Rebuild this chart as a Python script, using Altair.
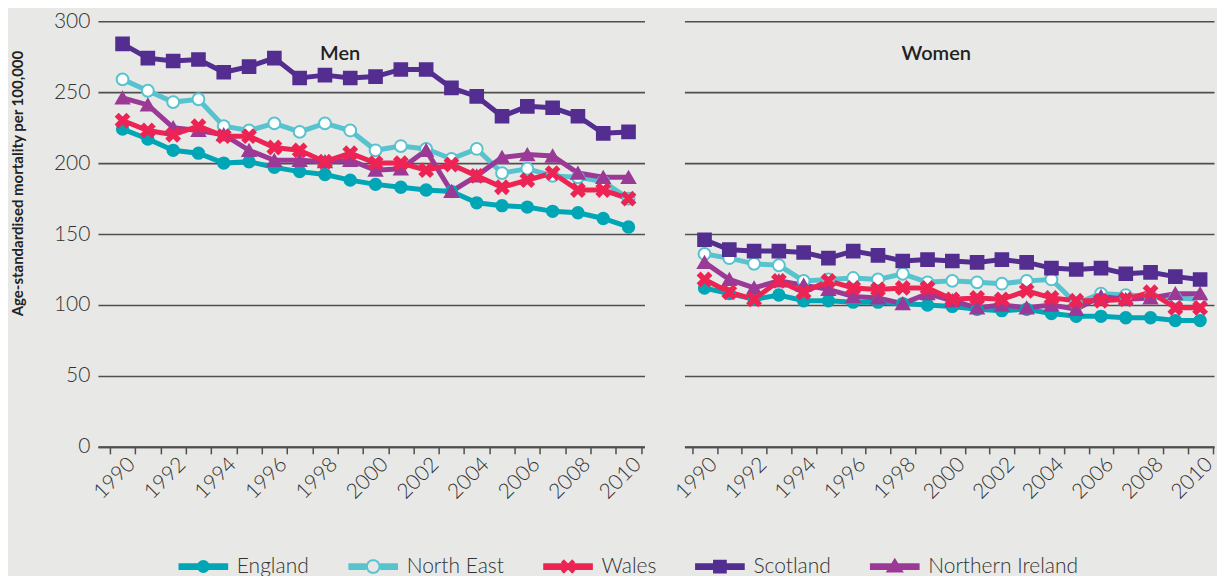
import math
import altair as alt
import pandas as pd

# ---------------- data ----------------
years = list(range(1990, 2011))
series = ["England", "North East", "Wales", "Scotland", "Northern Ireland"]

men_england = [224, 217, 209, 207, 200, 201, 197, 194, 192, 188, 185, 183, 181, 180, 172, 170, 169, 166, 165, 161, 155]
men_north_east = [259, 251, 243, 245, 226, 223, 228, 222, 228, 223, 209, 212, 210, 203, 210, 193, 196, 191, 190, 187, 175]
men_wales = [230, 223, 220, 226, 219, 219, 211, 209, 201, 207, 200, 200, 195, 199, 191, 183, 188, 193, 181, 181, 175]
men_scotland = [284, 274, 272, 273, 264, 268, 274, 260, 262, 260, 261, 266, 266, 253, 247, 233, 240, 239, 233, 221, 222]
men_northern_ireland = [246, 241, 225, 223, 220, 209, 202, 202, 201, 202, 195, 196, 209, 180, 191, 204, 206, 205, 193, 190, 190]

women_england = [112, 108, 104, 107, 103, 103, 102, 102, 101, 100, 99, 97, 96, 97, 94, 92, 92, 91, 91, 89, 89]
women_north_east = [136, 133, 129, 128, 117, 118, 119, 118, 122, 116, 117, 116, 115, 117, 118, 101, 108, 107, 106, 105, 104]
women_wales = [118, 109, 104, 117, 109, 117, 112, 111, 112, 112, 104, 105, 104, 110, 105, 103, 103, 104, 109, 98, 98]
women_scotland = [146, 139, 138, 138, 137, 133, 138, 135, 131, 132, 131, 130, 132, 130, 126, 125, 126, 122, 123, 120, 118]
women_northern_ireland = [130, 118, 112, 117, 114, 111, 106, 105, 101, 108, 103, 98, 100, 98, 100, 97, 106, 104, 105, 108, 108]

men = {"England": men_england, "North East": men_north_east, "Wales": men_wales,
       "Scotland": men_scotland, "Northern Ireland": men_northern_ireland}
women = {"England": women_england, "North East": women_north_east, "Wales": women_wales,
         "Scotland": women_scotland, "Northern Ireland": women_northern_ireland}

y_ticks = [0, 50, 100, 150, 200, 250, 300]

# ---------------- styles ----------------
colors = ["#00a6b6", "#56c3cf", "#ec2454", "#532d8f", "#9b3a96"]
fills = ["#00a6b6", "#ffffff", "#ec2454", "#532d8f", "#9b3a96"]
sizes = [130, 170, 160, 135, 210]
BG = "#e8e9e6"
GRID = "#4f4f4f"
TEXT = "#333333"
FONT = "Lato"
draw_order = ["England", "North East", "Northern Ireland", "Wales", "Scotland"]


# ---------------- marker / legend symbol paths ----------------
def area(pts):
    n = len(pts)
    return sum(pts[i][0] * pts[(i + 1) % n][1] - pts[(i + 1) % n][0] * pts[i][1] for i in range(n)) / 2


def sub(pts, positive=True):
    if (area(pts) > 0) != positive:
        pts = pts[::-1]
    return "M" + "L".join(f"{x:.3f},{y:.3f}" for x, y in pts) + "Z"


def circle(r, n=32):
    return [(r * math.cos(2 * math.pi * k / n), r * math.sin(2 * math.pi * k / n)) for k in range(n)]


def rect(x0, x1, h):
    return [(x0, -h), (x1, -h), (x1, h), (x0, h)]


def xshape(a, L):
    plus = [(a, -L), (a, -a), (L, -a), (L, a), (a, a), (a, L), (-a, L), (-a, a), (-L, a), (-L, -a), (-a, -a), (-a, -L)]
    c = math.sqrt(0.5)
    return [((x - y) * c, (x + y) * c) for x, y in plus]


X_MARK = sub(xshape(0.3, 1.2))
point_shapes = ["circle", "circle", X_MARK, "square", "triangle-up"]

BAR_H = 0.48
BAR_L = 3.55
legend_paths = [
    sub(rect(-BAR_L, BAR_L, BAR_H)) + sub(circle(0.92)),
    sub(rect(-BAR_L, -1.0, BAR_H)) + sub(rect(1.0, BAR_L, BAR_H)) + sub(circle(1.05)) + sub(circle(0.76), False),
    sub(rect(-BAR_L, BAR_L, BAR_H)) + sub(xshape(0.3, 1.15)),
    sub(rect(-BAR_L, BAR_L, BAR_H)) + sub(rect(-0.98, 0.98, 0.98)),
    sub(rect(-BAR_L, BAR_L, BAR_H)) + sub([(0, -1.25), (1.3, 0.85), (-1.3, 0.85)]),
]

# legend symbol colour, looked up per entry
fill_expr = "'" + colors[-1] + "'"
for name, col in reversed(list(zip(series[:-1], colors[:-1]))):
    fill_expr = f"datum.value === '{name}' ? '{col}' : ({fill_expr})"

# ---------------- table ----------------
rows = []
for sex, table in [("Men", men), ("Women", women)]:
    for s in draw_order:
        for yr, v in zip(years, table[s]):
            rows.append({"sex": sex, "series": s, "year": yr, "value": v})
df = pd.DataFrame(rows)

stroke_scale = alt.Scale(domain=series, range=colors)


def panel(sex, width, pad_outer, align, left, title_dx, title_offset):
    data = df[df["sex"] == sex]
    x = alt.X(
        "year:O", title=None,
        scale=alt.Scale(type="band", paddingInner=0, paddingOuter=pad_outer, align=align),
        axis=alt.Axis(tickBand="extent", labelExpr="datum.value % 2 == 0 ? datum.label : ''",
                      labelAngle=315, labelAlign="right", labelBaseline="middle", labelOverlap=False,
                      labelPadding=7, labelOffset=9, grid=False, domainColor=GRID, domainWidth=2,
                      tickColor=GRID, tickWidth=1.5, tickSize=7, labelFontSize=21, labelColor=TEXT,
                      labelFont=FONT, labelFontWeight=300),
    )
    if left:
        yaxis = alt.Axis(values=y_ticks, grid=True, gridColor=GRID, gridWidth=1.6, domain=False, ticks=False,
                         labelPadding=8, labelFontSize=21, labelColor=TEXT, labelFont=FONT, labelFontWeight=300,
                         title="Age-standardised mortality per 100,000", titleX=-80, titleY=162,
                         titleAngle=270, titleAlign="center", titleBaseline="middle", titleFontSize=15,
                         titleFont=FONT, titleFontWeight="bold", titleColor="#222222")
    else:
        yaxis = alt.Axis(values=y_ticks, grid=True, gridColor=GRID, gridWidth=1.6, domain=False, ticks=False,
                         labels=False, title=None)
    y = alt.Y("value:Q", scale=alt.Scale(domain=[0, 300], nice=False), axis=yaxis)

    base = alt.Chart(data).encode(x=x, y=y)
    lines = base.mark_line(strokeWidth=5).encode(
        stroke=alt.Stroke("series:N", scale=stroke_scale, legend=None),
        detail="series:N",
    )
    points = base.mark_point(filled=True, strokeWidth=2, opacity=1).encode(
        shape=alt.Shape("series:N", scale=alt.Scale(domain=series, range=point_shapes), legend=None),
        fill=alt.Fill("series:N", scale=alt.Scale(domain=series, range=fills), legend=None),
        stroke=alt.Stroke("series:N", scale=stroke_scale, legend=None),
        size=alt.Size("series:N", scale=alt.Scale(domain=series, range=sizes), legend=None),
    )
    return alt.layer(lines, points).properties(
        width=width, height=426,
        title=alt.TitleParams(sex, offset=title_offset, dx=title_dx, anchor="middle", frame="group",
                              fontSize=20, fontWeight=600, font=FONT, color="#222222"),
    )


men_panel = panel("Men", 547, 0.302, 0.784, True, -31, -54)
women_panel = panel("Women", 530, 0.1855, 0.837, False, -13, -43)

leg = alt.Legend(orient="none", legendX=95, legendY=89, direction="horizontal", columns=5, title=None,
                 symbolSize=196, symbolStrokeWidth=0, symbolOpacity=1,
                 symbolFillColor=alt.ExprRef(expr=fill_expr),
                 labelOffset=23, columnPadding=38,
                 labelFontSize=21, labelFont=FONT, labelFontWeight=300, labelColor=TEXT, labelLimit=0)
legend_chart = alt.Chart(pd.DataFrame({"series": series})).transform_filter("false").mark_point(
    filled=True, opacity=1
).encode(
    color=alt.Color("series:N", scale=alt.Scale(domain=series, range=colors), legend=None),
    shape=alt.Shape("series:N", scale=alt.Scale(domain=series, range=legend_paths), legend=leg),
).properties(width=1, height=1)

chart = alt.concat(
    men_panel, women_panel, legend_chart, columns=2, bounds="flush", spacing={"row": 20, "column": 40}
).resolve_scale(shape="independent").properties(
    padding={"left": 3, "top": 2, "right": 0, "bottom": 0}, background=BG
).configure_view(stroke=None)

chart.save("out.html", embed_options={"renderer": "svg", "actions": False})
